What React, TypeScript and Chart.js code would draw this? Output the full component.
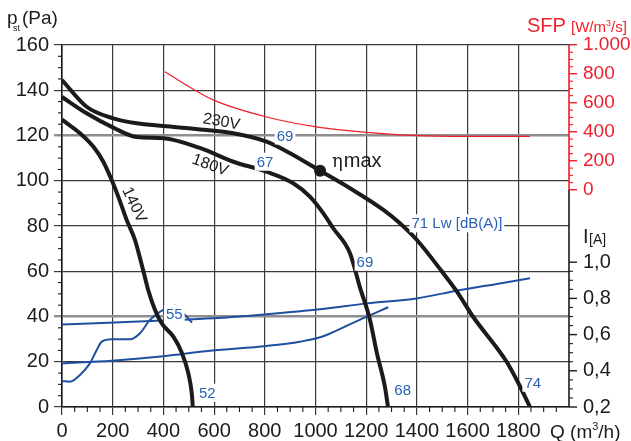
import React, { useEffect, useRef } from 'react';
import { Chart, registerables } from 'chart.js';

Chart.register(...registerables);

const FONT = '"Liberation Sans", Arial, Helvetica, sans-serif';
const INK = '#1b1b1b';
const GRID = '#3a3a3a';
const GRID_LIGHT = '#8e8e8e';
const BLUE = '#1e50a0';
const BLUE_TEXT = '#2a62b5';
const RED = '#ee1f2b';

// ---- axes ----
const Q_MAX = 2000;
const qTicks = [0, 200, 400, 600, 800, 1000, 1200, 1400, 1600, 1800];
const pTicks = [0, 20, 40, 60, 80, 100, 120, 140, 160];
const sfpTicks = [0, 200, 400, 600, 800, 1000];
const iTicks = [0.2, 0.4, 0.6, 0.8, 1.0];
const P_RANGE = [0, 160];
const SFP_RANGE = [-1500, 1000];
const I_RANGE = [0.2, 2.2];

// ---- pressure curves (Q m3/h, p Pa) ----
const q230 = [0, 97, 202, 295, 400, 544, 676, 807, 912, 1018, 1136, 1268, 1333, 1400, 1498, 1558, 1621, 1754, 1800, 1846];
const p230 = [144.5, 132.7, 127.6, 125.4, 124.2, 122.7, 121, 117.3, 111.4, 104.4, 96.7, 87.1, 81.2, 73.8, 60, 51, 40, 20, 10.6, 0];
const q180 = [0, 97, 202, 295, 400, 544, 676, 807, 912, 978, 1031, 1070, 1136, 1175, 1215, 1242, 1274, 1286];
const p180 = [137, 129.8, 123.5, 119.3, 118.8, 114.5, 108.4, 104, 98.9, 93, 85.6, 79, 68, 53, 38.5, 23.9, 8.8, 0];
const q140 = [0, 71, 124, 163, 196, 222, 255, 288, 320, 340, 367, 393, 440, 473, 498, 512, 516];
const p140 = [127, 121, 115, 108.4, 100.3, 93, 82.7, 73.8, 60.5, 51.7, 42.9, 37, 31, 23.9, 15, 6, 0];

// ---- SFP curve (W/m3/s) ----
const qSfp = [406, 505, 596, 807, 1004, 1202, 1400, 1597, 1846];
const sfpVals = [816, 708, 621, 503, 435, 397, 374, 369, 369];

// ---- current curves (A) ----
const qI230 = [0, 400, 597, 807, 1018, 1202, 1399, 1557, 1715, 1846];
const i230 = [0.656, 0.678, 0.69, 0.7125, 0.74, 0.7725, 0.8, 0.8425, 0.88, 0.911];
const qI180 = [0, 196, 400, 584, 807, 939, 1018, 1110, 1202, 1287];
const i180 = [0.441, 0.456, 0.481, 0.511, 0.5375, 0.561, 0.585, 0.64, 0.699, 0.751];
const qI140 = [0, 32, 71, 110, 137, 157, 196, 268, 308, 347, 387, 410, 445, 481, 513];
const i140 = [0.344, 0.34, 0.377, 0.441, 0.515, 0.561, 0.574, 0.574, 0.6075, 0.681, 0.726, 0.745, 0.76, 0.714, 0.666];

// ---- efficiency point ----
const etaQ = [1018];
const etaP = [104.4];

// ---- annotations (data coordinates) ----
const curveNotes = [
  { text: '230V', q: 629, p: 126, angle: 10 },
  { text: '180V', q: 584, p: 106.8, angle: 20 },
  { text: '140V', q: 284, p: 89.3, angle: 65 },
];
const lwNotes = [
  { text: '69', q: 880, p: 120 },
  { text: '67', q: 801, p: 108.4 },
  { text: '71 Lw [dB(A)]', q: 1558, p: 81.2 },
  { text: '69', q: 1195, p: 64.2 },
  { text: '68', q: 1344, p: 7.5 },
  { text: '74', q: 1857, p: 10.7 },
  { text: '52', q: 573, p: 6.3 },
  { text: '55', q: 443, p: 41.1 },
];
const etaNote = { q: 1065, p: 106.1 };

const pts = (xs: number[], ys: number[]) => xs.map((x, i) => ({ x, y: ys[i] }));

const line = (label: string, xs: number[], ys: number[], axis: string, color: string, width: number) => ({
  label,
  data: pts(xs, ys),
  yAxisID: axis,
  borderColor: color,
  backgroundColor: color,
  borderWidth: width,
  pointRadius: 0,
  fill: false,
  cubicInterpolationMode: 'monotone' as const,
  borderJoinStyle: 'round' as const,
});

const seg = (ctx: CanvasRenderingContext2D, x1: number, y1: number, x2: number, y2: number) => {
  ctx.beginPath();
  ctx.moveTo(x1, y1);
  ctx.lineTo(x2, y2);
  ctx.stroke();
};

const runs = (ctx: CanvasRenderingContext2D, x: number, base: number, parts: [string, number, number][]) => {
  let cx = x;
  for (const [t, s, dy] of parts) {
    ctx.font = `${s}px ${FONT}`;
    ctx.fillText(t, cx, base + dy);
    cx += ctx.measureText(t).width;
  }
};

const decor = {
  id: 'decor',
  afterDraw(chart: any) {
    const { ctx, chartArea: a, scales } = chart;
    const sx = scales.x, sy = scales.y, ss = scales.ySFP, si = scales.yI;
    ctx.save();

    // right axis line: red for SFP part, black below
    ctx.lineWidth = 1.6;
    ctx.strokeStyle = RED;
    seg(ctx, a.right, ss.getPixelForValue(sfpTicks[sfpTicks.length - 1]), a.right, ss.getPixelForValue(sfpTicks[0]));
    ctx.strokeStyle = INK;
    seg(ctx, a.right, ss.getPixelForValue(sfpTicks[0]), a.right, a.bottom);

    // minor ticks
    ctx.lineWidth = 1.1;
    ctx.strokeStyle = INK;
    for (let q = 50; q < Q_MAX; q += 50) {
      if (q % 200 === 0) continue;
      const x = sx.getPixelForValue(q);
      seg(ctx, x, a.bottom, x, a.bottom + 5);
    }
    for (let p = 5; p < 160; p += 5) {
      if (p % 20 === 0) continue;
      const y = sy.getPixelForValue(p);
      seg(ctx, a.left - 4, y, a.left, y);
    }
    ctx.strokeStyle = RED;
    for (let s = 50; s < 1000; s += 50) {
      if (s % 200 === 0) continue;
      const y = ss.getPixelForValue(s);
      seg(ctx, a.right, y, a.right + 4, y);
    }
    ctx.strokeStyle = INK;
    for (let k = 5; k < 20; k++) {
      if (k % 4 === 0) continue;
      const y = si.getPixelForValue(k * 0.05);
      seg(ctx, a.right, y, a.right + 4, y);
    }
    // major current ticks (drawn here so they sit on the shared right edge)
    ctx.lineWidth = 1.4;
    for (const v of iTicks) {
      const y = si.getPixelForValue(v);
      seg(ctx, a.right, y, a.right + 8, y);
    }

    // efficiency label
    ctx.fillStyle = INK;
    ctx.textAlign = 'left';
    ctx.textBaseline = 'alphabetic';
    const ex = sx.getPixelForValue(etaNote.q), ey = sy.getPixelForValue(etaNote.p);
    ctx.font = `18px "DejaVu Serif", serif`;
    ctx.fillText('η', ex, ey);
    const ew = ctx.measureText('η').width;
    ctx.font = `20px ${FONT}`;
    ctx.fillText('max', ex + ew + 1, ey);

    // voltage labels
    ctx.textAlign = 'center';
    ctx.textBaseline = 'middle';
    ctx.font = `16px ${FONT}`;
    for (const n of curveNotes) {
      ctx.save();
      ctx.translate(sx.getPixelForValue(n.q), sy.getPixelForValue(n.p));
      ctx.rotate((n.angle * Math.PI) / 180);
      ctx.fillText(n.text, 0, 0);
      ctx.restore();
    }

    // sound power labels (blue, on white)
    ctx.font = `15px ${FONT}`;
    for (const n of lwNotes) {
      const x = sx.getPixelForValue(n.q), y = sy.getPixelForValue(n.p);
      const w = ctx.measureText(n.text).width;
      ctx.fillStyle = '#ffffff';
      ctx.fillRect(x - w / 2 - 2, y - 9, w + 4, 18);
      ctx.fillStyle = BLUE_TEXT;
      ctx.fillText(n.text, x, y + 1);
    }

    // current tick labels
    ctx.fillStyle = INK;
    ctx.textAlign = 'left';
    ctx.font = `20px ${FONT}`;
    for (const v of iTicks) {
      ctx.fillText(v.toFixed(1).replace('.', ','), a.right + 14, si.getPixelForValue(v));
    }

    // headers
    ctx.textAlign = 'left';
    ctx.textBaseline = 'alphabetic';
    ctx.fillStyle = INK;
    ctx.font = `19px ${FONT}`;
    ctx.fillText('p', 7, 24);
    ctx.font = `9px ${FONT}`;
    ctx.fillText('st', 13, 31);
    ctx.font = `19px ${FONT}`;
    ctx.fillText('(Pa)', 22, 24);

    ctx.fillStyle = RED;
    runs(ctx, 527, 32, [['SFP', 20, 0]]);
    runs(ctx, 571, 32, [['[W/m', 15, 0], ['3', 9, -6], ['/s]', 15, 0]]);

    ctx.fillStyle = INK;
    runs(ctx, 583, 243, [['I', 20, 0]]);
    runs(ctx, 589, 244, [['[A]', 14, 0]]);

    runs(ctx, 550, 438, [['Q (m', 19, 0], ['3', 11, -8], ['/h)', 19, 0]]);

    ctx.restore();
  },
};

export default function App() {
  const ref = useRef<HTMLCanvasElement | null>(null);

  useEffect(() => {
    if (!ref.current) return;
    const tickFont = { family: FONT, size: 20 };
    const chart = new Chart(ref.current, {
      type: 'line',
      data: {
        datasets: [
          {
            label: 'eta max',
            data: pts(etaQ, etaP),
            yAxisID: 'y',
            showLine: false,
            pointRadius: 6,
            pointBackgroundColor: INK,
            pointBorderColor: INK,
            pointBorderWidth: 0,
          } as any,
          line('230V', q230, p230, 'y', INK, 4),
          line('180V', q180, p180, 'y', INK, 4),
          line('140V', q140, p140, 'y', INK, 4),
          line('SFP', qSfp, sfpVals, 'ySFP', RED, 1.2),
          line('I 230V', qI230, i230, 'yI', BLUE, 2),
          line('I 180V', qI180, i180, 'yI', BLUE, 2),
          line('I 140V', qI140, i140, 'yI', BLUE, 2),
        ],
      },
      options: {
        animation: false,
        responsive: false,
        devicePixelRatio: 1,
        parsing: false as any,
        layout: { padding: { top: 45, left: 0, right: 0, bottom: 0 } },
        plugins: { legend: { display: false }, tooltip: { enabled: false } },
        scales: {
          x: {
            type: 'linear',
            min: 0,
            max: Q_MAX,
            afterBuildTicks: (s: any) => {
              s.ticks = [...qTicks, Q_MAX].map((v) => ({ value: v }));
            },
            afterFit: (s: any) => {
              s.height = 34;
            },
            ticks: {
              autoSkip: false,
              maxRotation: 0,
              font: tickFont,
              color: INK,
              padding: 4,
              callback: (v: any) => (qTicks.includes(v) ? String(v) : ''),
            },
            grid: {
              color: (c: any) => (c.tick && c.tick.value === Q_MAX ? 'rgba(0,0,0,0)' : GRID),
              lineWidth: 1.2,
              tickLength: 8,
            },
            border: { color: INK, width: 1.6 },
          },
          y: {
            type: 'linear',
            position: 'left',
            min: P_RANGE[0],
            max: P_RANGE[1],
            afterBuildTicks: (s: any) => {
              s.ticks = pTicks.map((v) => ({ value: v }));
            },
            afterFit: (s: any) => {
              s.width = 62;
            },
            ticks: { autoSkip: false, font: tickFont, color: INK, padding: 5 },
            grid: {
              color: (c: any) => (c.tick && (c.tick.value === 40 || c.tick.value === 120) ? GRID_LIGHT : GRID),
              lineWidth: (c: any) => (c.tick && (c.tick.value === 40 || c.tick.value === 120) ? 2.4 : 1.2),
              tickLength: 8,
            },
            border: { color: INK, width: 1.6 },
          },
          yI: {
            type: 'linear',
            display: false,
            min: I_RANGE[0],
            max: I_RANGE[1],
          },
          ySFP: {
            type: 'linear',
            position: 'right',
            min: SFP_RANGE[0],
            max: SFP_RANGE[1],
            afterBuildTicks: (s: any) => {
              s.ticks = sfpTicks.map((v) => ({ value: v }));
            },
            afterFit: (s: any) => {
              s.width = 62;
            },
            ticks: {
              autoSkip: false,
              font: { family: FONT, size: 19 },
              color: RED,
              padding: 6,
              callback: (v: any) => (Number(v) >= 1000 ? Number(v).toLocaleString('de-DE') : String(v)),
            },
            grid: { drawOnChartArea: false, color: RED, lineWidth: 1.4, tickLength: 8 },
            border: { display: false },
          },
        },
      } as any,
      plugins: [decor],
    });
    return () => chart.destroy();
  }, []);

  return (
    <div style={{ position: 'absolute', left: 0, top: 0, width: 631, height: 441, background: '#fff' }}>
      <canvas ref={ref} width={631} height={441} style={{ width: 631, height: 441, display: 'block' }} />
    </div>
  );
}
